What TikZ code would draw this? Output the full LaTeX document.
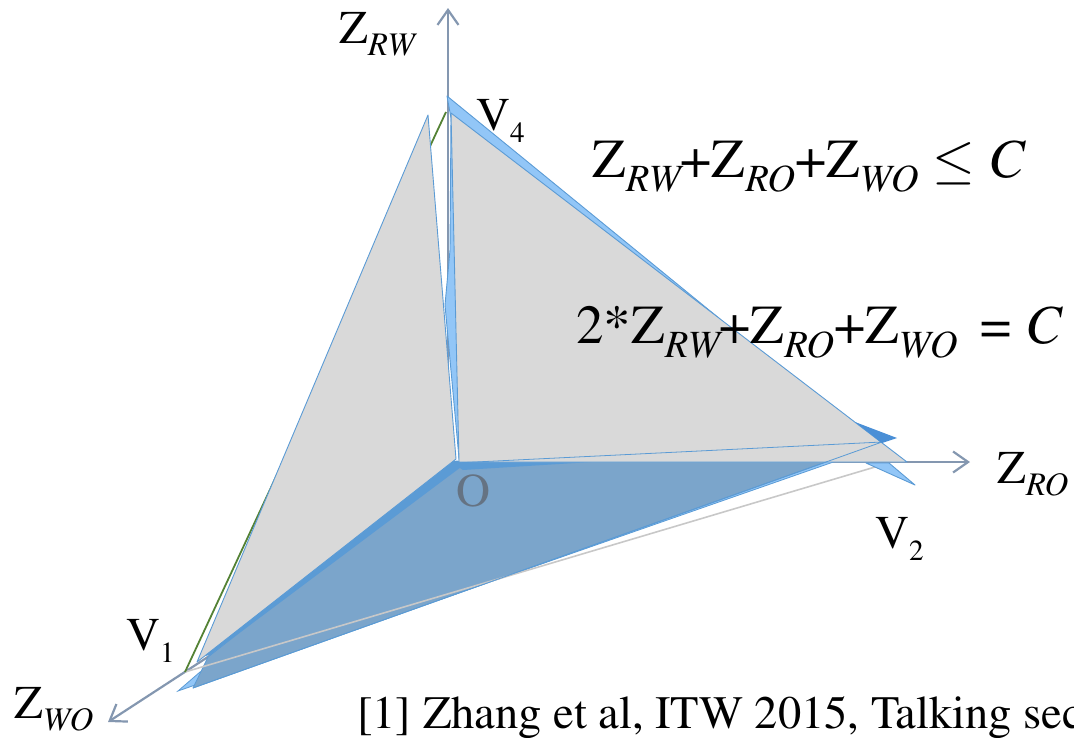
\documentclass[tikz,border=0pt]{standalone}
\usepackage[T1]{fontenc}
\usepackage{mathptmx}
\usetikzlibrary{arrows.meta}
\definecolor{axisgray}{HTML}{8497B0}
\definecolor{facegray}{HTML}{D9D9D9}
\definecolor{edgeblue}{HTML}{5B9BD5}
\definecolor{lightblue}{HTML}{92C6F7}
\definecolor{floorblue}{HTML}{7BA5CB}
\definecolor{darkblue}{HTML}{4A8FD6}
\definecolor{greenedge}{HTML}{548235}
\definecolor{linegray}{HTML}{C8C8C8}
\definecolor{olabel}{HTML}{657383}
\newcommand{\lsub}[2][0.7]{\raisebox{-0.27em}{\scalebox{#1}{#2}}}
\tikzset{
  axisline/.style={draw=axisgray, line width=2.2pt, -{Straight Barb[length=15pt,width=21pt]}},
  facefill/.style={fill=facegray, draw=edgeblue, line width=0.9pt, line join=round},
  backfill/.style={fill=lightblue, draw=edgeblue, line width=0.9pt, line join=round},
  floorfill/.style={fill=floorblue, draw=edgeblue, line width=0.8pt, line join=round},
  eqtext/.style={font=\fontsize{55}{60}\selectfont, inner sep=0pt, anchor=base west},
  axlabel/.style={font=\fontsize{47}{50}\selectfont, inner sep=0pt, anchor=base west},
  reftext/.style={font=\fontsize{46.5}{50}\selectfont, inner sep=0pt, anchor=base west}
}
\begin{document}
\begin{tikzpicture}[x=1pt,y=-1pt]
    \useasboundingbox (0,0) rectangle (1074,737);
    \coordinate (O) at (455,463);
    \coordinate (baseRW) at (448,462);
    \coordinate (tipRW) at (448,8);
    \coordinate (baseRO) at (460,462);
    \coordinate (tipRO) at (970,462);
    \coordinate (baseWO) at (300,597);
    \coordinate (tipWO) at (108,722);
    \coordinate (V1) at (185,672);
    \coordinate (V4) at (446,112);
    \coordinate (V2) at (875,467);
% axes
    \draw[axisline] (baseRW) -- (tipRW);
    \draw[axisline] (baseRO) -- (tipRO);
    \draw[axisline] (baseWO) -- (tipWO);
% floor
    \fill[lightblue, draw=edgeblue, line width=0.8pt]
        (178,691) -- (200,672) -- (878,442) -- (882,445) -- cycle;
    \filldraw[floorfill] (O) -- (882,442) -- (193,688) -- (208,657) -- cycle;
    \fill[edgeblue] (450,461) -- (461,467) -- (210,655) -- (200,657) -- cycle;
    \fill[edgeblue] (449,461) -- (880,444) -- (463,470) -- cycle;
    \draw[linegray, line width=1.6pt] (V1) -- (V2);
% right faces
    \filldraw[backfill] (447,96) -- (720,319) -- (459,458) -- (445,305)
        -- (450,250) -- (451,118) -- cycle;
    \filldraw[facefill] (451,113) -- (907,462) -- (459,462) -- cycle;
    \draw[edgeblue, line width=0.8pt] (O) -- (882,442) -- (193,688);
    \fill[darkblue] (855,422) -- (897,438) -- (882,443) -- cycle;
    \filldraw[backfill] (866,463) -- (889,463) -- (915,485) -- cycle;
% left face
    \draw[greenedge, line width=1.8pt] (V1) -- (V4);
    \filldraw[facefill] (197,662) -- (428,115) -- (456,459) -- cycle;
% labels
    \node[axlabel] (lblRW) at (339,43) {Z\lsub{\itshape RW}};
    \node[axlabel] (lblRO) at (997,483) {Z\lsub{\itshape RO}};
    \node[axlabel] (lblWO) at (14,718) {Z\lsub{\itshape WO}};
    \node[axlabel] (lblV4) at (476,130) {V\lsub[0.62]{4}};
    \node[axlabel] (lblV2) at (875,548) {V\lsub[0.62]{2}};
    \node[axlabel] (lblV1) at (126,650) {V\lsub[0.62]{1}};
    \node[axlabel, text=olabel] (lblO) at (456,506) {O};
    \node[eqtext] (eqle) at (592,177)
        {Z\lsub{\itshape RW}+Z\lsub{\itshape RO}+Z\lsub{\itshape WO} $\leq$ \textit{C}};
    \node[eqtext] (eqeq) at (576,343)
        {2*Z\lsub{\itshape RW}+Z\lsub{\itshape RO}+Z\lsub{\itshape WO} \,= \textit{C}};
    \node[reftext] (cite) at (357,728) {[1] Zhang et al, ITW 2015, Talking sec};
\end{tikzpicture}
\end{document}
